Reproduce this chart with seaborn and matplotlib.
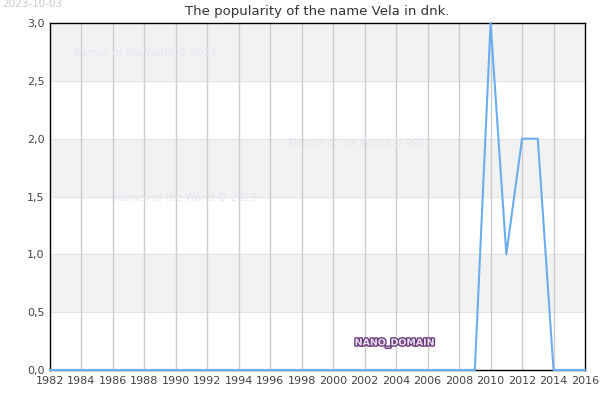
import numpy as np
import pandas as pd
import matplotlib
matplotlib.use('Agg')
import matplotlib.pyplot as plt
import matplotlib.patheffects as pe
import seaborn as sns

# Data
years = list(range(1982, 2017))
counts = [0] * 28 + [3, 1, 2, 2, 0, 0, 0]  # 1982..2009 zero, then 2010..2016
y_ticks = [0.0, 0.5, 1.0, 1.5, 2.0, 2.5, 3.0]
x_ticks = list(range(1982, 2017, 2))

df = pd.DataFrame({'year': years, 'count': counts})

sns.set_style("white")
plt.rcParams['font.family'] = ['DejaVu Sans']

fig = plt.figure(figsize=(6, 4), dpi=100)
ax = fig.add_axes([0.0833, 0.075, 0.8917, 0.8675])

# alternating horizontal bands
for lo in [0.5, 1.5, 2.5]:
    ax.axhspan(lo, lo + 0.5, color='#f2f2f2', zorder=0, lw=0)
for y in y_ticks[1:-1]:
    ax.axhline(y, color='#e4e4e4', lw=0.8, zorder=0.5)
for x in x_ticks[1:-1]:
    ax.axvline(x, color='#cccccc', lw=1, zorder=0.6)

sns.lineplot(data=df, x='year', y='count', ax=ax, color='#6aaef0', lw=1.5, zorder=3, clip_on=False)

ax.set_xlim(1982, 2016)
ax.set_ylim(0, 3)
ax.set_xticks(x_ticks)
ax.set_yticks(y_ticks)
ax.set_yticklabels([f'{v:.1f}'.replace('.', ',') for v in y_ticks])
ax.tick_params(axis='both', labelsize=8, colors='#444444', length=0, pad=4)
ax.set_xlabel('')
ax.set_ylabel('')
for s in ax.spines.values():
    s.set_color('black')
    s.set_linewidth(1)
    s.set_zorder(2.5)

ax.set_title('The popularity of the name Vela in dnk.', fontsize=9.5, color='#333333', pad=6)

# watermarks
wm = dict(fontsize=7.3, color='#e6e6f2', ha='center', va='center', transform=fig.transFigure, zorder=1)
fig.text(145 / 600, 1 - 53 / 400, 'Names of the World © 2023', **wm)
fig.text(360 / 600, 1 - 143 / 400, 'Names of the World © 2023', **wm)
fig.text(185 / 600, 1 - 198 / 400, 'Names of the World © 2023', **wm)

fig.text(395 / 600, 1 - 343 / 400, 'NANO_DOMAIN', fontsize=6.8, color='#e8dcef', ha='center', va='center',
         fontweight='bold',
         path_effects=[pe.withStroke(linewidth=2, foreground='#6b3f7c')])

fig.text(2 / 600, 1 - 4 / 400, '2023-10-03', fontsize=7.5, color='#cccccc', ha='left', va='center')

fig.savefig('out.png', dpi=100)
